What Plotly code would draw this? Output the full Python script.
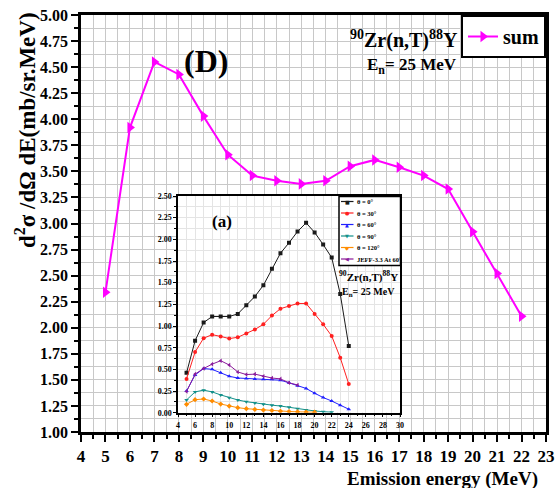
import plotly.graph_objects as go

# ---------------- data ----------------
energy = list(range(5, 23))
sum_vals = [2.34, 3.92, 4.55, 4.43, 4.03, 3.66, 3.46, 3.41, 3.38, 3.41,
            3.55, 3.61, 3.54, 3.46, 3.33, 2.92, 2.52, 2.11]

inset_e = list(range(5, 25))
theta0 = [0.46, 0.83, 1.04, 1.11, 1.11, 1.11, 1.14, 1.24, 1.34, 1.47,
          1.66, 1.84, 1.96, 2.09, 2.19, 2.08, 1.94, 1.79, 1.37, 0.77]
theta30 = [0.39, 0.70, 0.86, 0.90, 0.88, 0.855, 0.87, 0.915, 0.96, 1.02,
           1.12, 1.20, 1.23, 1.26, 1.26, 1.14, 1.02, 0.885, 0.635, 0.33]
theta60 = [0.25, 0.435, 0.51, 0.50, 0.46, 0.42, 0.40, 0.395, 0.39, 0.385,
           0.385, 0.375, 0.345, 0.31, 0.28, 0.225, 0.175, 0.135, 0.085, 0.04]
theta90_e = list(range(5, 23))
theta90 = [0.147, 0.24, 0.26, 0.24, 0.205, 0.173, 0.147, 0.127, 0.112, 0.097,
           0.087, 0.077, 0.062, 0.045, 0.032, 0.02, 0.012, 0.006]
theta120_e = list(range(5, 21))
theta120 = [0.097, 0.150, 0.158, 0.135, 0.10, 0.077, 0.058, 0.046, 0.038, 0.03,
            0.025, 0.018, 0.014, 0.01, 0.008, 0.006]
jeff_e = list(range(5, 19))
jeff = [0.245, 0.445, 0.51, 0.56, 0.60, 0.55, 0.47, 0.44, 0.445, 0.42,
        0.40, 0.39, 0.345, 0.32]

inset_labels = ["θ = 0°", "θ = 30°", "θ = 60°", "θ = 90°", "θ = 120°", "JEFF-3.3 At 60°"]
inset_colors = ["#1a1a1a", "#ff2020", "#2020ff", "#12908a", "#ff8c00", "#8a1a9a"]
inset_symbols = ["square", "circle", "triangle-up", "triangle-down", "diamond", "triangle-left"]
inset_glyphs = ["■", "●", "▲", "▼", "◆", "◀"]

SERIF = "Liberation Serif"

# layout helpers (pixel -> paper)
L, R, T, B = 81, 546, 15, 432
def px_x(p):
    return (p - L) / (R - L)
def px_y(p):
    return (B - p) / (B - T)

fig = go.Figure()

fig.add_trace(go.Scatter(
    x=energy, y=sum_vals, mode="lines+markers", name="sum",
    line=dict(color="#ff00ff", width=2),
    marker=dict(symbol="triangle-right", size=10, color="#ff00ff"),
    xaxis="x", yaxis="y"))

series = [(inset_e, theta0), (inset_e, theta30), (inset_e, theta60),
          (theta90_e, theta90), (theta120_e, theta120), (jeff_e, jeff)]
for (xs, ys), lab, col, sym in zip(series, inset_labels, inset_colors, inset_symbols):
    fig.add_trace(go.Scatter(
        x=xs, y=ys, mode="lines+markers", name=lab, showlegend=False,
        line=dict(color=col, width=1),
        marker=dict(symbol=sym, size=4, color=col),
        xaxis="x2", yaxis="y2"))

tickfont_main = dict(family=SERIF, size=16, color="black", weight="bold")
fig.update_layout(
    width=556, height=488,
    margin=dict(l=L, r=556 - R, t=T, b=488 - B, autoexpand=False),
    paper_bgcolor="white", plot_bgcolor="white",
    showlegend=True,
    legend=dict(x=1, y=1, xanchor="right", yanchor="top",
                bgcolor="white", bordercolor="black", borderwidth=2,
                font=dict(family=SERIF, size=20, color="black", weight="bold"),
                itemwidth=30),
    xaxis=dict(range=[4, 23], dtick=1, tick0=4, showline=True, linecolor="black",
               linewidth=2.5, mirror=True, ticks="outside", ticklen=7, tickwidth=2,
               tickcolor="black", showgrid=True, gridcolor="#c8c8c8", gridwidth=1,
               zeroline=False, automargin=False,
               tickfont=dict(family=SERIF, size=17, color="black", weight="bold"),
               ticklabelstandoff=0,
               minor=dict(dtick=0.5, showgrid=True, gridcolor="#c8c8c8", ticks="outside",
                          ticklen=4, tickwidth=2, tickcolor="black")),
    yaxis=dict(range=[1, 5], dtick=0.25, tick0=1, tickformat=".2f", showline=True,
               linecolor="black", linewidth=2.5, mirror=True, ticks="outside",
               ticklen=7, tickwidth=2, tickcolor="black", showgrid=True,
               gridcolor="#c8c8c8", gridwidth=1, zeroline=False, automargin=False,
               tickfont=tickfont_main,
               minor=dict(dtick=0.125, showgrid=True, gridcolor="#c8c8c8", ticks="outside",
                          ticklen=4, tickwidth=2, tickcolor="black")),
    xaxis2=dict(domain=[px_x(178), px_x(400)], anchor="y2", range=[4, 30], dtick=2, tick0=4,
                showline=True, linecolor="black", linewidth=1.5, mirror=True,
                ticks="outside", ticklen=3, tickwidth=1, tickcolor="black",
                showgrid=True, gridcolor="#e4e4e4", zeroline=False, automargin=False,
                tickfont=dict(family=SERIF, size=8, color="black", weight="bold"),
                ticklabelstandoff=1,
                minor=dict(dtick=1, showgrid=True, gridcolor="#e4e4e4", ticks="outside",
                           ticklen=2, tickcolor="black")),
    yaxis2=dict(domain=[px_y(412.7), px_y(196)], anchor="x2", range=[0, 2.5], dtick=0.25,
                tickformat=".2f", showline=True, linecolor="black", linewidth=1.5,
                mirror=True, ticks="outside", ticklen=3, tickwidth=1, tickcolor="black",
                showgrid=True, gridcolor="#e4e4e4", zeroline=False, automargin=False,
                tickfont=dict(family=SERIF, size=8, color="black", weight="bold"),
                minor=dict(dtick=0.125, showgrid=True, gridcolor="#e4e4e4", ticks="outside",
                           ticklen=2, tickcolor="black")),
)

shapes = []
# white backing of the inset (drawn in the inset subplot's lower layer)
shapes.append(dict(type="rect", xref="x2 domain", yref="y2 domain", layer="below",
                   x0=(155 - 178) / 222, x1=(404 - 178) / 222,
                   y0=(412.7 - 429.5) / 216.7, y1=(412.7 - 187) / 216.7,
                   fillcolor="white", line=dict(width=0)))
# inset legend box
shapes.append(dict(type="rect", xref="paper", yref="paper", layer="above",
                   x0=px_x(339), x1=px_x(400.5), y0=px_y(265.5), y1=px_y(196.5),
                   fillcolor="white", line=dict(color="black", width=1.5)))

def ann(x, y, text, size, family=SERIF, color="black", weight="bold", **kw):
    d = dict(xref="paper", yref="paper", x=px_x(x), y=px_y(y), text=text,
             showarrow=False, xanchor="center", yanchor="middle",
             font=dict(family=family, size=size, color=color, weight=weight))
    d.update(kw)
    return d

annotations = []
rows = [201.5, 213, 224.5, 236, 247.5, 259]
for ry, lab, col, gl in zip(rows, inset_labels, inset_colors, inset_glyphs):
    shapes.append(dict(type="line", xref="paper", yref="paper", layer="above",
                       x0=px_x(341), x1=px_x(353.5), y0=px_y(ry), y1=px_y(ry),
                       line=dict(color=col, width=1.2)))
    annotations.append(ann(347.2, ry, gl, 5, family="DejaVu Sans", color=col, weight="normal"))
    annotations.append(ann(355, ry, lab, 6.5, xanchor="left"))

annotations += [
    ann(206, 61, "(D)", 32),
    ann(404, 40, "<sup>90</sup>Zr(n,T)<sup>88</sup>Y", 20),
    ann(412, 66, "E<sub>n</sub>= 25 MeV", 17),
    ann(222, 221, "(a)", 17),
    ann(368, 276, "<sup>90</sup>Zr(n,T)<sup>88</sup>Y", 11),
    ann(368, 292, "E<sub>n</sub>= 25 MeV", 10),
    ann(442, 479, "Emission energy (MeV)", 19),
    ann(25, 130, "d<sup>2</sup>σ /dΩ dE(mb/sr.MeV)", 23, textangle=-90),
]

fig.update_layout(shapes=shapes, annotations=annotations)
fig.write_html("out.html", config={"displayModeBar": False},
               post_script="document.body.style.margin='0';document.body.style.padding='0';")
